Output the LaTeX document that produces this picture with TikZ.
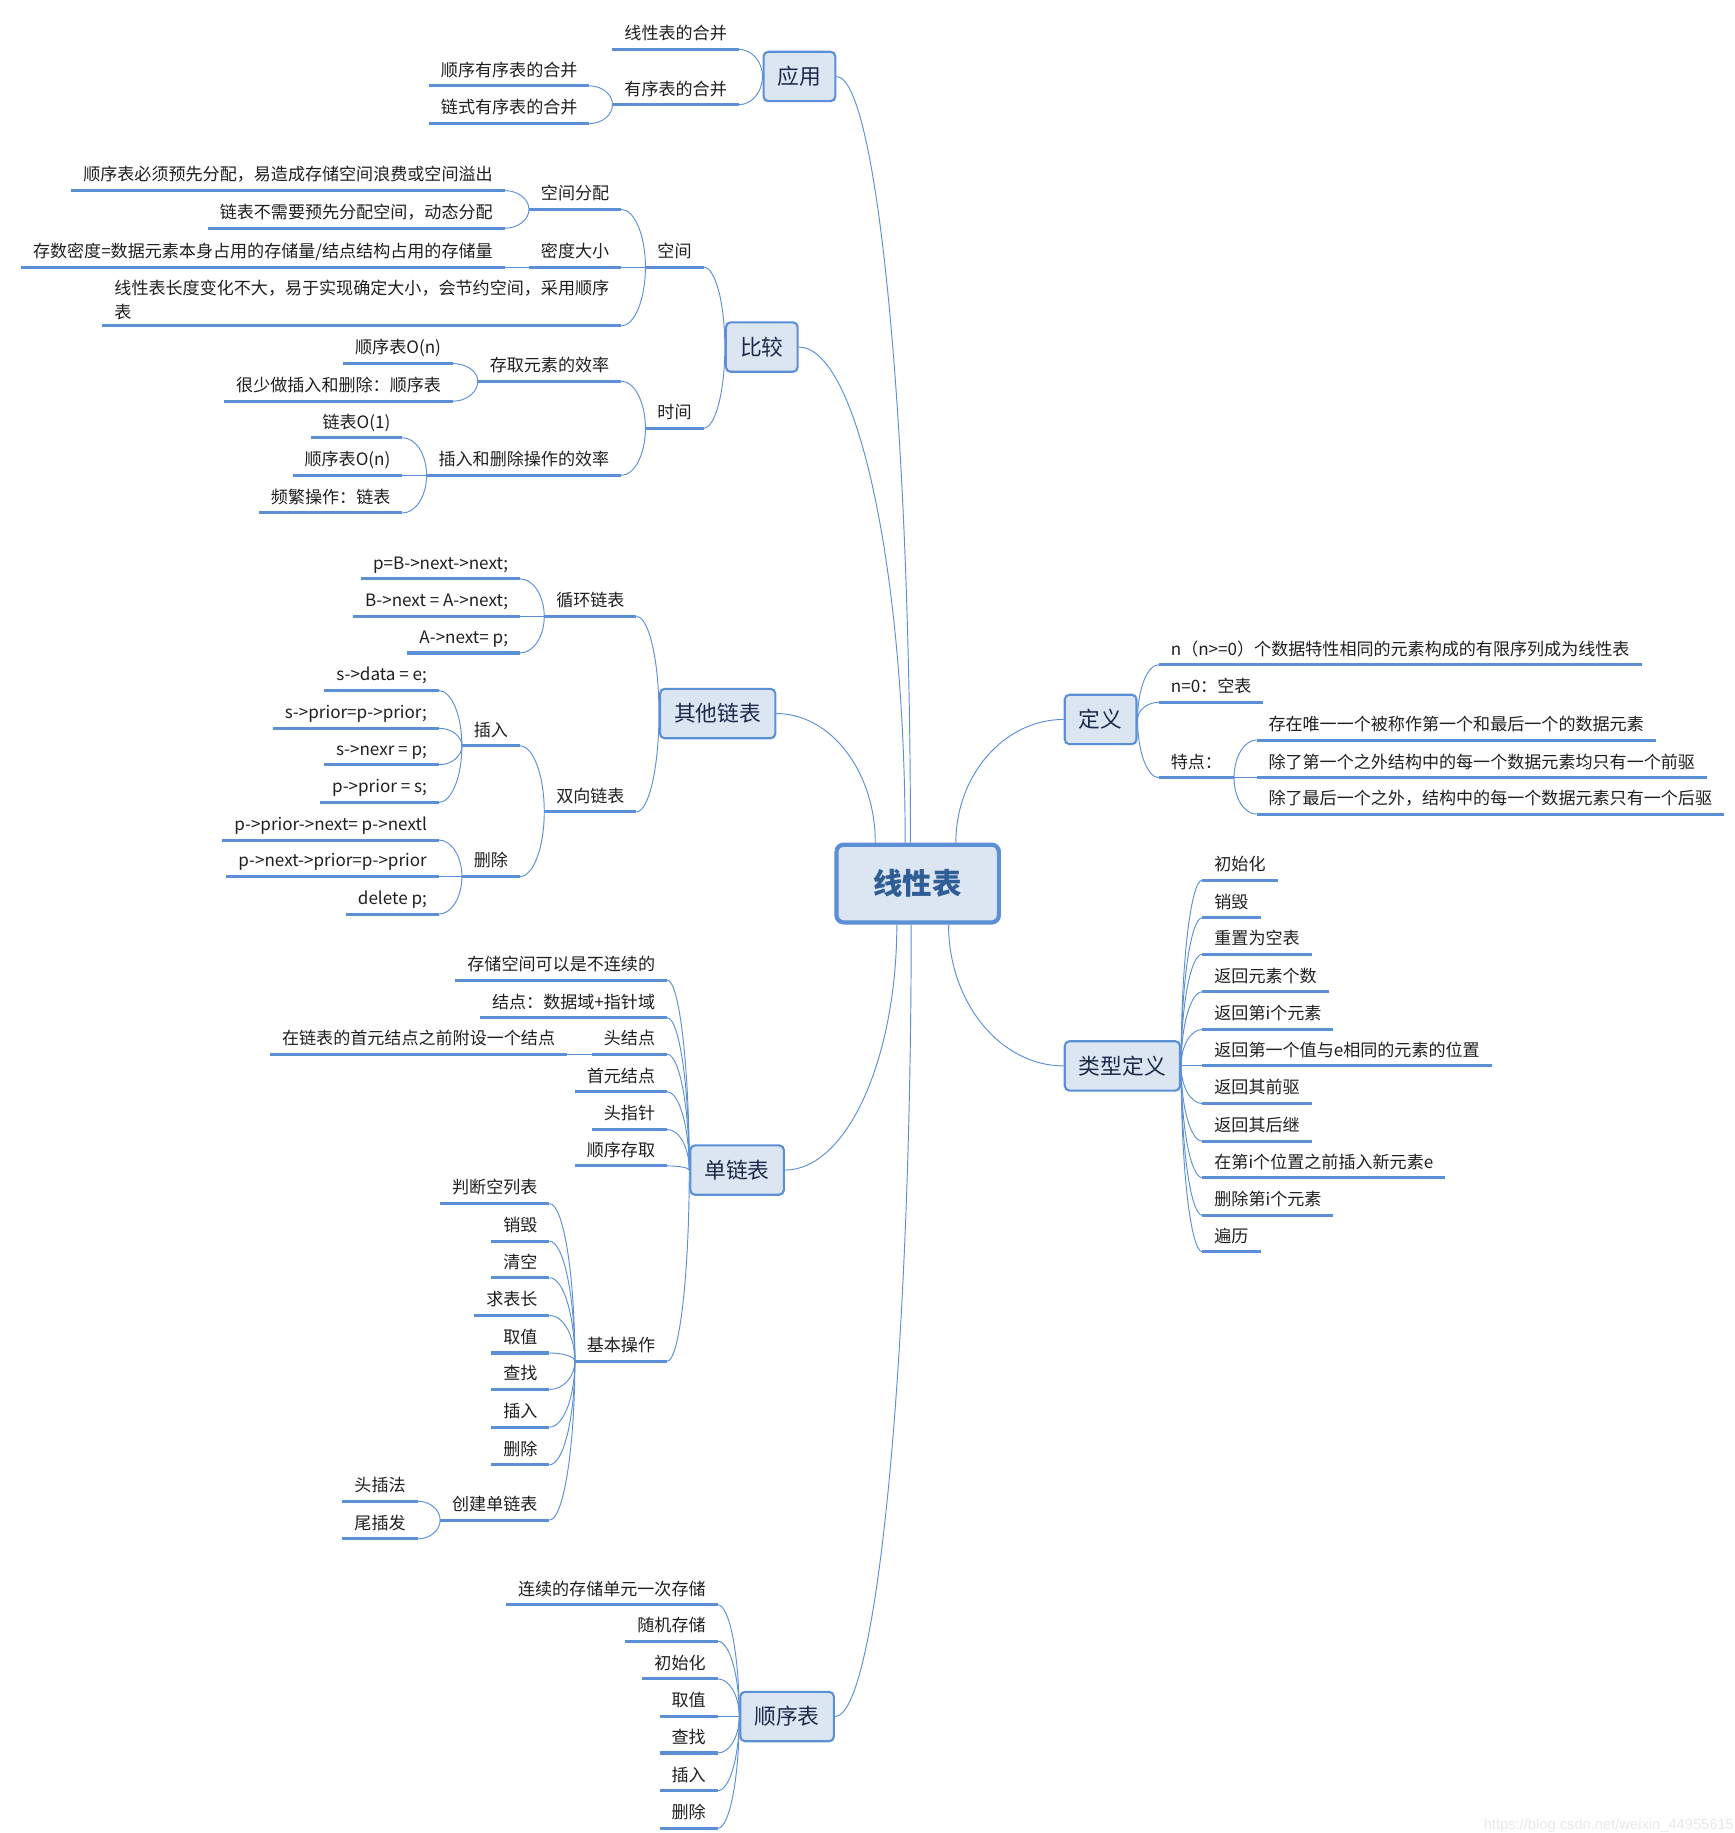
\documentclass[tikz,border=0pt]{standalone}
\usepackage{fontspec}
\setmainfont{Noto Sans CJK SC}
\newfontfamily\wmfont{Liberation Sans}
\usetikzlibrary{calc}
\definecolor{mmline}{HTML}{5B8FD6}
\definecolor{mmfill}{HTML}{DCE6F2}
\definecolor{mmtext}{HTML}{1B2A4A}
\definecolor{mmroot}{HTML}{2F5D95}
\newcommand\lbsize{\fontsize{14.5}{17}\selectfont}
\tikzset{
  link/.style={draw=mmline, line width=0.8pt},
  uline/.style={draw=mmline, line width=2.6pt},
  leaf/.style={inner xsep=10pt, inner ysep=5pt, font=\lbsize, text=black!88,
    append after command={(\tikzlastnode.south west) edge[uline] (\tikzlastnode.south east)}},
  lf/.style={leaf, text height=11pt, text depth=3pt, anchor=south east},
  rt/.style={leaf, text height=11pt, text depth=3pt, anchor=south west},
  topic/.style={draw=mmline, fill=mmfill, line width=1.8pt, rounded corners=4pt,
    minimum height=42pt, inner xsep=12pt, font=\fontsize{18.5}{22}\selectfont, text=mmtext},
  root/.style={draw=mmline, fill=mmfill, line width=3.6pt, rounded corners=6pt,
    minimum height=66pt, minimum width=138pt, font=\fontsize{25}{28}\selectfont\bfseries, text=mmroot}
}
% curved branch: leaves the child flat, meets the parent upright
\newcommand\lk[2]{\draw[link] let \p1=(#1), \p2=(#2) in
  (\p1) .. controls ($(\p1)!.55!(\x2,\y1)$) and ($(\p2)!.55!(\x2,\y1)$) .. (\p2);}

\begin{document}
\begin{tikzpicture}[x=1pt,y=-1pt]
  \useasboundingbox (0,0) rectangle (1474,1558);

  % Topics
  \node[root] (root) at (780,751) {线性表};
  \node[topic] (app) at (679.5,65) {应用};
  \node[topic] (cmp) at (647.5,295) {比较};
  \node[topic] (oth) at (610,606.5) {其他链表};
  \node[topic] (sll) at (626.5,994.5) {单链表};
  \node[topic] (seq) at (669,1459) {顺序表};
  \node[topic] (def) at (935.5,611.5) {定义};
  \node[topic] (typ) at (954,906) {类型定义};

  % 应用
  \node[lf] (app1) at (628,42) {线性表的合并};
  \node[lf] (app2) at (628,89) {有序表的合并};
  \node[lf] (app21) at (501,73) {顺序有序表的合并};
  \node[lf] (app22) at (501,105) {链式有序表的合并};

  % 比较
  \node[lf] (sp) at (598,227) {空间};
  \node[lf] (tm) at (598,364) {时间};
  \node[lf] (sp1) at (528,178) {空间分配};
  \node[lf] (sp2) at (528,227) {密度大小};
  \node[leaf, anchor=south east, align=left, font=\fontsize{14.5}{20}\selectfont] (sp3) at (528,277)
    {线性表长度变化不大，易于实现确定大小，会节约空间，采用顺序\\表};
  \node[lf] (sp11) at (429,162) {顺序表必须预先分配，易造成存储空间浪费或空间溢出};
  \node[lf] (sp12) at (429,194) {链表不需要预先分配空间，动态分配};
  \node[lf] (sp21) at (429,227) {存数密度=数据元素本身占用的存储量/结点结构占用的存储量};
  \node[lf] (tm1) at (528,324) {存取元素的效率};
  \node[lf] (tm2) at (528,404) {插入和删除操作的效率};
  \node[lf] (tm11) at (385,309) {顺序表O(n)};
  \node[lf] (tm12) at (385,341) {很少做插入和删除：顺序表};
  \node[lf] (tm21) at (342,372) {链表O(1)};
  \node[lf] (tm22) at (342,404) {顺序表O(n)};
  \node[lf] (tm23) at (342,436) {频繁操作：链表};

  % 其他链表
  \node[lf] (cyc) at (541,524) {循环链表};
  \node[lf] (dbl) at (541,690) {双向链表};
  \node[lf] (cyc1) at (442,492) {p=B->next->next;};
  \node[lf] (cyc2) at (442,524) {B->next = A->next;};
  \node[lf] (cyc3) at (442,555) {A->next= p;};
  \node[lf] (ins) at (442,634) {插入};
  \node[lf] (del) at (442,745) {删除};
  \node[lf] (ins1) at (373,587) {s->data = e;};
  \node[lf] (ins2) at (373,619) {s->prior=p->prior;};
  \node[lf] (ins3) at (373,650) {s->nexr = p;};
  \node[lf] (ins4) at (373,682) {p->prior = s;};
  \node[lf] (del1) at (373,714) {p->prior->next= p->nextl};
  \node[lf] (del2) at (373,745) {p->next->prior=p->prior};
  \node[lf] (del3) at (373,777) {delete p;};

  % 单链表
  \node[lf] (s1) at (567,833) {存储空间可以是不连续的};
  \node[lf] (s2) at (567,865) {结点：数据域+指针域};
  \node[lf] (s3) at (567,896) {头结点};
  \node[lf] (s31) at (482,896) {在链表的首元结点之前附设一个结点};
  \node[lf] (s4) at (567,928) {首元结点};
  \node[lf] (s5) at (567,960) {头指针};
  \node[lf] (s6) at (567,991) {顺序存取};
  \node[lf] (s7) at (567,1157) {基本操作};
  \node[lf] (o1) at (467,1023) {判断空列表};
  \node[lf] (o2) at (467,1055) {销毁};
  \node[lf] (o3) at (467,1086) {清空};
  \node[lf] (o4) at (467,1118) {求表长};
  \node[lf] (o5) at (467,1150) {取值};
  \node[lf] (o6) at (467,1181) {查找};
  \node[lf] (o7) at (467,1213) {插入};
  \node[lf] (o8) at (467,1245) {删除};
  \node[lf] (o9) at (467,1292) {创建单链表};
  \node[lf] (o91) at (355,1276) {头插法};
  \node[lf] (o92) at (355,1308) {尾插发};

  % 顺序表
  \node[lf] (q1) at (610,1364) {连续的存储单元一次存储};
  \node[lf] (q2) at (610,1395) {随机存储};
  \node[lf] (q3) at (610,1427) {初始化};
  \node[lf] (q4) at (610,1459) {取值};
  \node[lf] (q5) at (610,1490) {查找};
  \node[lf] (q6) at (610,1522) {插入};
  \node[lf] (q7) at (610,1554) {删除};

  % 定义
  \node[rt] (d1) at (985,565) {n（n>=0）个数据特性相同的元素构成的有限序列成为线性表};
  \node[rt] (d2) at (985,597) {n=0：空表};
  \node[rt] (d3) at (985,661) {特点：};
  \node[rt] (d31) at (1068,629) {存在唯一一个被称作第一个和最后一个的数据元素};
  \node[rt] (d32) at (1068,661) {除了第一个之外结构中的每一个数据元素均只有一个前驱};
  \node[rt] (d33) at (1068,692) {除了最后一个之外，结构中的每一个数据元素只有一个后驱};

  % 类型定义
  \node[rt] (t1) at (1022,748) {初始化};
  \node[rt] (t2) at (1022,780) {销毁};
  \node[rt] (t3) at (1022,811) {重置为空表};
  \node[rt] (t4) at (1022,843) {返回元素个数};
  \node[rt] (t5) at (1022,875) {返回第i个元素};
  \node[rt] (t6) at (1022,906) {返回第一个值与e相同的元素的位置};
  \node[rt] (t7) at (1022,938) {返回其前驱};
  \node[rt] (t8) at (1022,970) {返回其后继};
  \node[rt] (t9) at (1022,1001) {在第i个位置之前插入新元素e};
  \node[rt] (t10) at (1022,1033) {删除第i个元素};
  \node[rt] (t11) at (1022,1064) {遍历};

  % Branches
  \lk{app.east}{root.100}
  \lk{cmp.east}{root.107}
  \lk{oth.east}{root.136}
  \lk{sll.east}{root.243}
  \lk{seq.east}{root.261}
  \lk{def.west}{root.47}
  \lk{typ.west}{root.307}
  \foreach \c in {app1,app2} {\lk{\c.south east}{app.west}}
  \foreach \c in {app21,app22} {\lk{\c.south east}{app2.south west}}
  \foreach \c in {sp,tm} {\lk{\c.south east}{cmp.west}}
  \foreach \c in {sp1,sp2,sp3} {\lk{\c.south east}{sp.south west}}
  \foreach \c in {sp11,sp12} {\lk{\c.south east}{sp1.south west}}
  \lk{sp21.south east}{sp2.south west}
  \foreach \c in {tm1,tm2} {\lk{\c.south east}{tm.south west}}
  \foreach \c in {tm11,tm12} {\lk{\c.south east}{tm1.south west}}
  \foreach \c in {tm21,tm22,tm23} {\lk{\c.south east}{tm2.south west}}
  \foreach \c in {cyc,dbl} {\lk{\c.south east}{oth.west}}
  \foreach \c in {cyc1,cyc2,cyc3} {\lk{\c.south east}{cyc.south west}}
  \foreach \c in {ins,del} {\lk{\c.south east}{dbl.south west}}
  \foreach \c in {ins1,ins2,ins3,ins4} {\lk{\c.south east}{ins.south west}}
  \foreach \c in {del1,del2,del3} {\lk{\c.south east}{del.south west}}
  \foreach \c in {s1,s2,s3,s4,s5,s6,s7} {\lk{\c.south east}{sll.west}}
  \lk{s31.south east}{s3.south west}
  \foreach \c in {o1,o2,o3,o4,o5,o6,o7,o8,o9} {\lk{\c.south east}{s7.south west}}
  \foreach \c in {o91,o92} {\lk{\c.south east}{o9.south west}}
  \foreach \c in {q1,q2,q3,q4,q5,q6,q7} {\lk{\c.south east}{seq.west}}
  \foreach \c in {d1,d2,d3} {\lk{\c.south west}{def.east}}
  \foreach \c in {d31,d32,d33} {\lk{\c.south west}{d3.south east}}
  \foreach \c in {t1,t2,t3,t4,t5,t6,t7,t8,t9,t10,t11} {\lk{\c.south west}{typ.east}}

  % Watermark
  \node[anchor=east, inner sep=0pt, text=black!9, font=\wmfont\fontsize{12.5}{14}\selectfont] (wm) at (1474,1552)
    {https://blog.csdn.net/weixin\_44955615};
\end{tikzpicture}
\end{document}
